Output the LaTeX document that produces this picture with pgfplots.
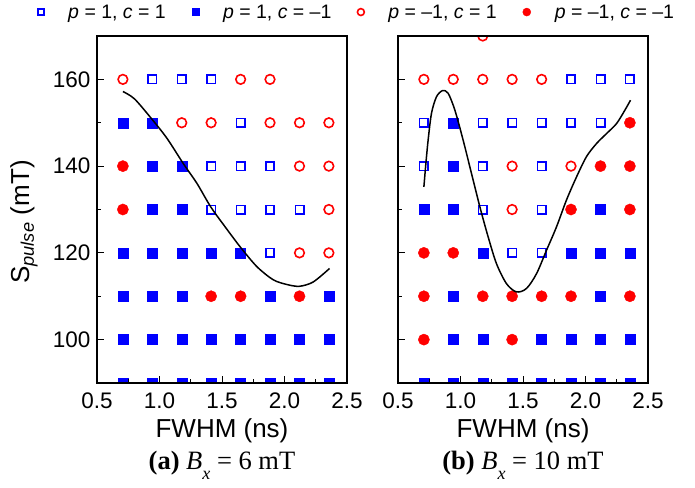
\documentclass[border=0pt]{standalone}
\usepackage{pgfplots}
\pgfplotsset{compat=1.18}
\usepackage{fontspec}
\setmainfont{Liberation Sans}
\newfontfamily\timesfont{Liberation Serif}

\definecolor{pblue}{RGB}{0,0,255}
\definecolor{pred}{RGB}{255,0,0}

\pgfplotsset{
  panel/.style={
    width=250pt, height=347pt, scale only axis,
    xmin=0.5, xmax=2.5, ymin=90, ymax=170,
    xtick={0.5,1.0,1.5,2.0,2.5}, minor xtick={0.75,1.25,1.75,2.25},
    ytick={100,120,140,160}, minor ytick={90,110,130,150,170},
    tick align=inside, tick pos=left,
    major tick length=7pt, minor tick length=4pt,
    every tick/.style={black, line width=1pt},
    axis line style={line width=1.2pt},
    clip marker paths=true, axis on top,
    /pgf/number format/assume math mode=true,
    xticklabel style={font=\fontsize{22.5}{22.5}\selectfont, anchor=base, yshift=-25pt,
      /pgf/number format/.cd, fixed, fixed zerofill, precision=1},
    yticklabel style={font=\fontsize{22.5}{22.5}\selectfont, xshift=-3pt},
    xlabel={FWHM (ns)},
    xlabel style={font=\fontsize{26}{26}\selectfont, at={(axis description cs:0.5,0)},
      anchor=base, yshift=-54pt},
  },
  osq/.style={only marks, mark=square, mark size=4.2pt, mark options={draw=pblue, line width=1.6pt}},
  fsq/.style={only marks, mark=square*, mark size=5pt, mark options={draw=pblue, fill=pblue}},
  ocirc/.style={only marks, mark=o, mark size=4.8pt, mark options={draw=pred, line width=1.6pt}},
  fcirc/.style={only marks, mark=*, mark size=5.6pt, mark options={draw=pred, fill=pred}},
  curve/.style={black, line width=1.5pt, smooth, no marks},
}

\begin{document}
\begin{tikzpicture}
\useasboundingbox (-97pt,-104pt) rectangle (598pt,383pt);

% ---- panel (a): Bx = 6 mT
\begin{axis}[panel, name=pa,
  legend columns=4,
  legend style={draw=none, fill=none, inner sep=0pt,
    at={(axis description cs:-0.236,1.069)}, anchor=west,
    nodes={inner sep=0pt},
    font=\fontsize{19.5}{19.5}\selectfont,
    /tikz/every odd column/.append style={column sep=24pt},
    /tikz/every even column/.append style={column sep=26pt}},
  legend image code/.code={\draw[#1, every mark/.append style={scale=0.72}] plot coordinates {(0pt,0pt)};},
]
\addplot[osq] coordinates {
  (0.942,160)(1.178,160)(1.413,160)
  (1.649,150)
  (1.413,140)(1.649,140)(1.884,140)
  (1.413,130)(1.649,130)(1.884,130)(2.120,130)
  (1.884,120)
};
\addlegendentry{\textit{p} = 1, \textit{c} = 1}
\addplot[fsq] coordinates {
  (0.707,150)(0.942,150)
  (0.942,140)(1.178,140)
  (0.942,130)(1.178,130)
  (0.707,120)(0.942,120)(1.178,120)(1.413,120)(1.649,120)
  (0.707,110)(0.942,110)(1.178,110)(1.884,110)(2.355,110)
  (0.707,100)(0.942,100)(1.178,100)(1.413,100)(1.649,100)(1.884,100)(2.120,100)(2.355,100)
  (0.707,90)(0.942,90)(1.178,90)(1.413,90)(1.649,90)(1.884,90)(2.120,90)(2.355,90)
};
\addlegendentry{\textit{p} = 1, \textit{c} = –1}
\addplot[ocirc] coordinates {
  (0.707,160)(1.649,160)(1.884,160)
  (1.178,150)(1.413,150)(1.884,150)(2.120,150)(2.355,150)
  (2.120,140)(2.355,140)
  (2.355,130)
  (2.120,120)(2.355,120)
};
\addlegendentry{\textit{p} = –1, \textit{c} = 1}
\addplot[fcirc] coordinates {
  (0.707,140)(0.707,130)
  (1.413,110)(1.649,110)(2.120,110)
};
\addlegendentry{\textit{p} = –1, \textit{c} = –1}
\addplot[curve, forget plot] coordinates {
  (0.707,157.2)(0.80,155.5)(0.94,150.8)(1.06,146.4)(1.19,140.6)(1.30,136.0)
  (1.41,130.6)(1.525,126.0)(1.645,121.4)(1.78,116.8)(1.91,113.8)(2.02,112.7)
  (2.12,112.3)(2.23,113.3)(2.36,116.4)
};
\end{axis}

% ---- panel (b): Bx = 10 mT
\begin{axis}[panel, name=pb, at={(301pt,0pt)}, yticklabels={}]
\addplot[osq] coordinates {
  (1.884,160)(2.120,160)(2.355,160)
  (0.707,150)(1.178,150)(1.413,150)(1.649,150)(1.884,150)(2.120,150)
  (0.707,140)(1.178,140)(1.649,140)
  (1.178,130)(1.649,130)
  (1.413,120)(1.649,120)
};
\addplot[fsq] coordinates {
  (0.942,150)
  (0.942,140)
  (0.707,130)(0.942,130)(2.120,130)
  (1.178,120)(1.884,120)(2.120,120)(2.355,120)
  (0.942,110)(2.120,110)
  (0.942,100)(1.178,100)(1.649,100)(1.884,100)(2.120,100)(2.355,100)
  (0.707,90)(0.942,90)(1.178,90)(1.413,90)(1.649,90)(1.884,90)(2.120,90)(2.355,90)
};
\addplot[ocirc] coordinates {
  (1.178,170)
  (0.707,160)(0.942,160)(1.178,160)(1.413,160)(1.649,160)
  (1.413,140)(1.884,140)
  (1.413,130)
};
\addplot[fcirc] coordinates {
  (2.355,150)
  (2.120,140)(2.355,140)
  (1.884,130)(2.355,130)
  (0.707,120)(0.942,120)
  (0.707,110)(1.178,110)(1.413,110)(1.649,110)(1.884,110)(2.355,110)
  (0.707,100)(1.413,100)
};
\addplot[curve] coordinates {
  (0.707,135.2)(0.723,140.6)(0.741,146.0)(0.768,152.2)(0.808,156.0)(0.856,157.4)
  (0.901,156.8)(0.955,152.9)(1.021,146.0)(1.088,138.3)(1.155,130.6)(1.221,123.7)
  (1.288,117.5)(1.368,112.9)(1.448,111.0)(1.528,111.8)(1.608,115.2)(1.688,120.6)
  (1.768,126.0)(1.848,132.2)(1.928,137.5)(2.008,142.2)(2.088,145.2)(2.168,147.5)
  (2.248,149.8)(2.315,152.9)(2.360,155.2)
};
\end{axis}

% axis title and panel captions
\path (pa.south west) ++(-73pt,161pt) node[rotate=90, font=\fontsize{26}{26}\selectfont]
  {S\textsubscript{\textit{pulse}} (mT)};
\path (pa.south) ++(0pt,-86pt) node[anchor=base, font=\timesfont\fontsize{26.5}{26.5}\selectfont]
  {\textbf{(a)} \textit{B}\raisebox{-0.9ex}{\fontsize{18}{18}\selectfont\textit{x}} = 6 mT};
\path (pb.south) ++(0pt,-86pt) node[anchor=base, font=\timesfont\fontsize{26.5}{26.5}\selectfont]
  {\textbf{(b)} \textit{B}\raisebox{-0.9ex}{\fontsize{18}{18}\selectfont\textit{x}} = 10 mT};
\end{tikzpicture}
\end{document}
